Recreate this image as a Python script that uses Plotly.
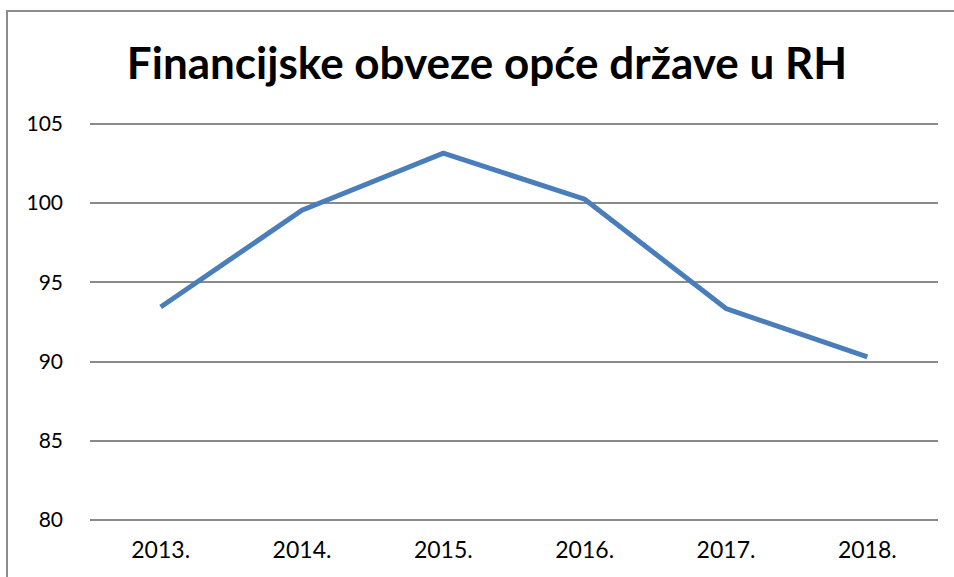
import plotly.graph_objects as go

years = ["2013.", "2014.", "2015.", "2016.", "2017.", "2018."]
obveze = [93.45, 99.55, 103.15, 100.25, 93.35, 90.3]
y_ticks = [80, 85, 90, 95, 100, 105]

fig = go.Figure(go.Scatter(
    x=years, y=obveze, mode="lines",
    line=dict(color="#4a7ebb", width=5),
))

# plot area: x 90..938, y 80 -> 520px, 105 -> 124px
fig.update_layout(
    width=954, height=577,
    margin=dict(l=90, r=16, t=122, b=55),
    paper_bgcolor="white", plot_bgcolor="white",
    showlegend=False,
    font=dict(family="Lato", size=21, color="black"),
    title=dict(
        text="<b>Financijske obveze opće države u RH</b>",
        x=487 / 954, xanchor="center", xref="container",
        y=1 - 64 / 577, yanchor="middle",
        font=dict(family="Lato", size=44, color="black"),
    ),
    xaxis=dict(
        range=[-0.5, 5.5],
        showgrid=False, showline=False, zeroline=False,
        ticks="", ticklabelstandoff=12, automargin=False,
        tickfont=dict(size=23),
    ),
    yaxis=dict(
        range=[79.88, 105.12], tickvals=y_ticks,
        showgrid=True, gridcolor="#8a8a8a", gridwidth=1.5,
        showline=False, zeroline=False,
        ticks="", ticklabelstandoff=26, automargin=False,
    ),
    # chart frame: only left and top edges fall inside the picture
    shapes=[dict(
        type="rect", xref="paper", yref="paper",
        x0=(7 - 90) / 848, x1=(980 - 90) / 848,
        y0=(522 - 600) / 400, y1=(522 - 11) / 400,
        line=dict(color="#8c8c8c", width=2),
        fillcolor="rgba(0,0,0,0)", layer="below",
    )],
)

fig.write_html(
    "out.html",
    config={"displayModeBar": False},
    post_script="document.body.style.margin='0';",
)
